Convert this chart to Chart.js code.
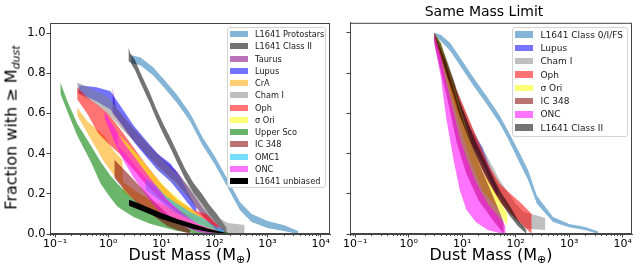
<!DOCTYPE html>
<html>
<head>
  <meta charset="UTF-8" />
  <title>Dust Mass Distributions</title>
  <script src="https://cdn.jsdelivr.net/npm/chart.js"></script>
  <style>
    body {
      margin: 0;
      background: #fff;
      font-family: "DejaVu Sans", sans-serif;
    }

    #wrap {
      position: relative;
      width: 640px;
      height: 275px;
      overflow: hidden;
    }

    canvas {
      position: absolute;
      top: 0;
    }

    #left { left: 0; }
    #right { left: 336px; }

    .legend {
      position: absolute;
      box-sizing: border-box;
      background: rgba(255, 255, 255, 0.8);
      border: 1px solid #d3d3d3;
      border-radius: 3px;
    }

    .legend .row {
      display: flex;
      align-items: center;
      white-space: nowrap;
      color: #1a1a1a;
    }

    .legend .sw {
      display: inline-block;
      flex: none;
    }

    .xtitle {
      position: absolute;
      top: 246px;
      font-size: 16px;
      line-height: 18px;
      text-align: center;
      color: #000;
    }

    .xtitle sub {
      font-size: 11px;
      vertical-align: -3px;
    }

    #ytitle {
      position: absolute;
      left: -96px;
      top: 116px;
      width: 220px;
      font-size: 16px;
      line-height: 18px;
      text-align: center;
      transform: rotate(-90deg);
      color: #000;
    }

    #ytitle sub {
      font-size: 11px;
      font-style: italic;
      vertical-align: -3px;
    }
  </style>
</head>
<body>
<div id="wrap">
  <canvas id="left" width="336" height="275"></canvas>
  <canvas id="right" width="304" height="275"></canvas>
  <div id="ytitle">Fraction with ≥ M<sub>dust</sub></div>
  <div class="xtitle" style="left:50px;width:280px">Dust Mass (M<sub>⊕</sub>)</div>
  <div class="xtitle" style="left:350px;width:282px">Dust Mass (M<sub>⊕</sub>)</div>
  <div class="legend" id="legend-left"></div>
  <div class="legend" id="legend-right"></div>
</div>

<script>
  // ---- left panel: all regions ----
  const protoMass = [2.7, 4, 7, 12, 20, 35, 60, 100, 170, 300, 500, 1000, 2000, 3800];
  const protoHigh = [0.89, 0.88, 0.83, 0.76, 0.69, 0.60, 0.48, 0.39, 0.28, 0.16, 0.10, 0.065, 0.045, 0.015];
  const protoLow  = [0.85, 0.84, 0.79, 0.72, 0.65, 0.56, 0.44, 0.35, 0.24, 0.12, 0.06, 0.03, 0.015, 0.0];

  const classIIMass = [2.4, 2.6, 3.2, 4, 6, 8, 11, 15, 20, 28, 40, 58, 80, 111, 170];
  const classIIHigh = [0.93, 0.90, 0.865, 0.805, 0.705, 0.625, 0.545, 0.475, 0.405, 0.325, 0.255, 0.20, 0.145, 0.10, 0.03];
  const classIILow  = [0.86, 0.855, 0.815, 0.755, 0.655, 0.575, 0.495, 0.425, 0.355, 0.275, 0.205, 0.15, 0.095, 0.05, 0.0];

  const taurusMass = [1.2, 1.4, 2.3, 5.4, 10, 20, 35, 60, 100, 150];
  const taurusHigh = [0.73, 0.63, 0.56, 0.45, 0.38, 0.31, 0.22, 0.13, 0.06, 0.02];
  const taurusLow  = [0.60, 0.58, 0.50, 0.39, 0.32, 0.25, 0.17, 0.09, 0.03, 0.0];

  const lupusMass = [0.28, 0.6, 1.1, 2, 3, 5, 8.4, 15, 23, 30, 40, 46];
  const lupusHigh = [0.74, 0.73, 0.71, 0.61, 0.54, 0.47, 0.40, 0.35, 0.28, 0.22, 0.16, 0.13];
  const lupusLow  = [0.70, 0.66, 0.62, 0.53, 0.46, 0.39, 0.32, 0.26, 0.20, 0.16, 0.12, 0.11];

  const craMass = [0.26, 0.41, 0.83, 1.3, 1.85, 1.9, 3, 6, 15, 40, 100];
  const craHigh = [0.63, 0.56, 0.49, 0.41, 0.37, 0.26, 0.22, 0.17, 0.13, 0.09, 0.03];
  const craLow  = [0.59, 0.50, 0.36, 0.29, 0.24, 0.21, 0.17, 0.12, 0.08, 0.05, 0.0];

  const chamMass = [0.26, 0.5, 1, 2, 4, 8, 15, 30, 60, 120, 180, 370];
  const chamHigh = [0.755, 0.72, 0.68, 0.58, 0.49, 0.40, 0.33, 0.25, 0.15, 0.08, 0.055, 0.045];
  const chamLow  = [0.70, 0.66, 0.60, 0.51, 0.43, 0.34, 0.27, 0.19, 0.10, 0.04, 0.005, 0.0];

  const ophMass = [0.26, 0.4, 0.65, 1, 1.6, 3, 5, 10, 20, 40, 70, 120];
  const ophHigh = [0.73, 0.68, 0.64, 0.60, 0.53, 0.43, 0.35, 0.25, 0.17, 0.12, 0.10, 0.04];
  const ophLow  = [0.67, 0.60, 0.50, 0.45, 0.40, 0.32, 0.25, 0.17, 0.11, 0.07, 0.04, 0.0];

  const sigmaMass = [1.5, 2.5, 4, 7, 12, 20, 35, 60, 100];
  const sigmaHigh = [0.50, 0.44, 0.38, 0.30, 0.23, 0.18, 0.13, 0.08, 0.03];
  const sigmaLow  = [0.44, 0.38, 0.31, 0.24, 0.17, 0.13, 0.08, 0.04, 0.0];

  const uscoMass = [0.125, 0.17, 0.26, 0.47, 0.72, 1.1, 1.5, 3, 6.3, 20, 55, 180];
  const uscoHigh = [0.755, 0.66, 0.55, 0.44, 0.36, 0.29, 0.25, 0.17, 0.12, 0.05, 0.025, 0.01];
  const uscoLow  = [0.70, 0.61, 0.49, 0.36, 0.25, 0.18, 0.135, 0.085, 0.05, 0.015, 0.0, 0.0];

  const ic348Mass = [1.3, 2, 3, 5, 8, 13, 20, 35];
  const ic348High = [0.37, 0.32, 0.27, 0.21, 0.15, 0.10, 0.06, 0.02];
  const ic348Low  = [0.28, 0.22, 0.17, 0.12, 0.08, 0.04, 0.02, 0.0];

  const omc1Mass = [5, 8, 12, 20, 35, 60, 100, 150];
  const omc1High = [0.28, 0.24, 0.19, 0.15, 0.11, 0.08, 0.04, 0.02];
  const omc1Low  = [0.22, 0.18, 0.14, 0.10, 0.07, 0.04, 0.02, 0.0];

  const oncMass = [0.85, 1.3, 2, 3, 5, 8, 13, 25, 50, 100];
  const oncHigh = [0.61, 0.53, 0.45, 0.39, 0.31, 0.24, 0.17, 0.10, 0.05, 0.02];
  const oncLow  = [0.58, 0.46, 0.36, 0.28, 0.20, 0.13, 0.08, 0.04, 0.01, 0.0];

  const unbiasedMass = [2.46, 3.5, 6, 10, 20, 40, 80, 170];
  const unbiasedHigh = [0.17, 0.155, 0.13, 0.105, 0.075, 0.05, 0.025, 0.005];
  const unbiasedLow  = [0.14, 0.125, 0.10, 0.075, 0.05, 0.025, 0.01, 0.0];

  // ---- right panel: same mass limit ----
  const sameProtoMass = [3, 4, 6, 9, 16, 28, 50, 70, 120, 170, 250, 500, 1000, 2000, 3500];
  const sameProtoHigh = [1.0, 0.99, 0.95, 0.88, 0.78, 0.69, 0.59, 0.52, 0.40, 0.32, 0.19, 0.085, 0.05, 0.035, 0.012];
  const sameProtoLow  = [0.99, 0.96, 0.91, 0.84, 0.74, 0.65, 0.55, 0.48, 0.35, 0.27, 0.15, 0.06, 0.033, 0.02, 0.0];

  const sameLupusMass = [3, 5, 8, 14, 24, 40, 47];
  const sameLupusHigh = [1.0, 0.86, 0.69, 0.53, 0.43, 0.27, 0.21];
  const sameLupusLow  = [0.97, 0.80, 0.62, 0.46, 0.35, 0.22, 0.18];

  const sameChamMass = [3, 5, 8, 14, 25, 50, 100, 140, 200, 360];
  const sameChamHigh = [1.0, 0.88, 0.72, 0.55, 0.42, 0.27, 0.15, 0.11, 0.10, 0.08];
  const sameChamLow  = [0.97, 0.82, 0.64, 0.47, 0.34, 0.19, 0.07, 0.03, 0.025, 0.02];

  const sameOphMass = [3, 5, 8, 13, 20, 30, 50, 80, 130, 200];
  const sameOphHigh = [1.0, 0.86, 0.71, 0.58, 0.46, 0.35, 0.25, 0.20, 0.15, 0.10];
  const sameOphLow  = [0.97, 0.80, 0.62, 0.48, 0.36, 0.26, 0.16, 0.10, 0.05, 0.0];

  const sameSigmaMass = [3, 4, 6, 10, 15, 25, 45, 70];
  const sameSigmaHigh = [1.0, 0.95, 0.80, 0.60, 0.45, 0.30, 0.19, 0.10];
  const sameSigmaLow  = [0.98, 0.88, 0.70, 0.50, 0.35, 0.21, 0.13, 0.04];

  const sameIc348Mass = [3, 5, 8, 12, 20, 35, 60];
  const sameIc348High = [1.0, 0.85, 0.66, 0.51, 0.36, 0.21, 0.06];
  const sameIc348Low  = [0.95, 0.70, 0.45, 0.30, 0.17, 0.08, 0.0];

  const sameOncMass = [3, 4, 5, 7, 9, 12, 18, 30, 50, 65];
  const sameOncHigh = [1.0, 0.88, 0.76, 0.60, 0.48, 0.38, 0.26, 0.15, 0.08, 0.04];
  const sameOncLow  = [0.95, 0.78, 0.58, 0.36, 0.22, 0.12, 0.06, 0.02, 0.005, 0.0];

  const sameClassIIMass = [3, 4, 5, 7, 9, 13, 18, 25, 38, 55, 78, 110, 160];
  const sameClassIIHigh = [1.0, 0.95, 0.87, 0.76, 0.66, 0.55, 0.46, 0.38, 0.28, 0.20, 0.14, 0.07, 0.02];
  const sameClassIILow  = [1.0, 0.89, 0.80, 0.69, 0.59, 0.48, 0.39, 0.31, 0.22, 0.15, 0.09, 0.04, 0.0];

  const decades = [0.1, 1, 10, 100, 1000, 10000];
  const yTicks = [0, 0.2, 0.4, 0.6, 0.8, 1.0];

  const colors = {
    blue: 'rgba(31,119,180,0.55)',
    black: 'rgba(0,0,0,0.55)',
    purple: 'rgba(128,0,128,0.55)',
    lupus: 'rgba(0,0,255,0.55)',
    orange: 'rgba(255,165,0,0.55)',
    gray: 'rgba(128,128,128,0.5)',
    red: 'rgba(255,0,0,0.55)',
    yellow: 'rgba(255,255,0,0.55)',
    green: 'rgba(0,128,0,0.58)',
    maroon: 'rgba(128,0,0,0.55)',
    cyan: 'rgba(0,191,255,0.55)',
    magenta: 'rgba(255,0,255,0.55)',
    solid: 'rgba(0,0,0,1)'
  };

  const leftBands = [
    ['L1641 Protostars', protoMass, protoLow, protoHigh, colors.blue],
    ['L1641 Class II', classIIMass, classIILow, classIIHigh, colors.black],
    ['Taurus', taurusMass, taurusLow, taurusHigh, colors.purple],
    ['Lupus', lupusMass, lupusLow, lupusHigh, colors.lupus],
    ['CrA', craMass, craLow, craHigh, colors.orange],
    ['Cham I', chamMass, chamLow, chamHigh, colors.gray],
    ['Oph', ophMass, ophLow, ophHigh, colors.red],
    ['σ Ori', sigmaMass, sigmaLow, sigmaHigh, colors.yellow],
    ['Upper Sco', uscoMass, uscoLow, uscoHigh, colors.green],
    ['IC 348', ic348Mass, ic348Low, ic348High, colors.maroon],
    ['OMC1', omc1Mass, omc1Low, omc1High, colors.cyan],
    ['ONC', oncMass, oncLow, oncHigh, colors.magenta],
    ['L1641 unbiased', unbiasedMass, unbiasedLow, unbiasedHigh, colors.solid]
  ];

  const rightBands = [
    ['L1641 Class 0/I/FS', sameProtoMass, sameProtoLow, sameProtoHigh, colors.blue],
    ['Lupus', sameLupusMass, sameLupusLow, sameLupusHigh, colors.lupus],
    ['Cham I', sameChamMass, sameChamLow, sameChamHigh, colors.gray],
    ['Oph', sameOphMass, sameOphLow, sameOphHigh, colors.red],
    ['σ Ori', sameSigmaMass, sameSigmaLow, sameSigmaHigh, colors.yellow],
    ['IC 348', sameIc348Mass, sameIc348Low, sameIc348High, colors.maroon],
    ['ONC', sameOncMass, sameOncLow, sameOncHigh, colors.magenta],
    ['L1641 Class II', sameClassIIMass, sameClassIILow, sameClassIIHigh, colors.black]
  ];

  const FONT = '"DejaVu Sans", sans-serif';
  const AXIS = '#444';

  const sup = { '-': '⁻', '0': '⁰', '1': '¹', '2': '²', '3': '³', '4': '⁴' };
  function decadeLabel(v) {
    const e = String(Math.round(Math.log10(v)));
    return '10' + e.split('').map(c => sup[c]).join('');
  }

  // each band = lower line + upper line filled down to it
  function bandDatasets(bands) {
    const out = [];
    bands.forEach(([label, mass, low, high, color], k) => {
      const common = {
        pointRadius: 0,
        borderWidth: 0,
        borderColor: 'rgba(0,0,0,0)',
        tension: 0,
        order: -k
      };
      out.push(Object.assign({
        label: label + ' low',
        data: mass.map((m, i) => ({ x: m, y: low[i] })),
        fill: false
      }, common));
      out.push(Object.assign({
        label: label,
        data: mass.map((m, i) => ({ x: m, y: high[i] })),
        fill: '-1',
        backgroundColor: color
      }, common));
    });
    return out;
  }

  // full box plus the small log ticks matplotlib draws
  const framePlugin = {
    id: 'frame',
    afterDraw(chart) {
      const { ctx, chartArea: a } = chart;
      const xs = chart.scales.x;
      ctx.save();
      ctx.strokeStyle = AXIS;
      ctx.lineWidth = 1;
      ctx.strokeRect(a.left + 0.5, a.top + 0.5, a.right - a.left - 1, a.bottom - a.top - 1);
      ctx.beginPath();
      for (let d = -2; d <= 4; d++) {
        for (let k = 2; k <= 9; k++) {
          const v = k * Math.pow(10, d);
          if (v < xs.min || v > xs.max) continue;
          const px = Math.round(xs.getPixelForValue(v)) + 0.5;
          ctx.moveTo(px, a.bottom);
          ctx.lineTo(px, a.bottom + 2);
        }
      }
      ctx.stroke();
      ctx.restore();
    }
  };

  function makeChart(id, bands, opts) {
    return new Chart(document.getElementById(id), {
      type: 'line',
      data: { datasets: bandDatasets(bands) },
      plugins: [framePlugin],
      options: {
        responsive: false,
        animation: false,
        devicePixelRatio: 1,
        layout: { padding: opts.padding },
        plugins: {
          legend: { display: false },
          tooltip: { enabled: false },
          title: opts.title ? {
            display: true,
            text: opts.title,
            color: '#000',
            font: { family: FONT, size: 14, weight: 'normal', lineHeight: 1.2 },
            padding: { top: 4, bottom: 2 }
          } : { display: false }
        },
        scales: {
          x: {
            type: 'logarithmic',
            min: 0.08,
            max: 15000,
            afterBuildTicks: s => { s.ticks = decades.map(v => ({ value: v })); },
            afterFit: s => { s.height = 41; },
            ticks: {
              autoSkip: false,
              maxRotation: 0,
              padding: 0,
              color: '#000',
              font: { family: FONT, size: 11 },
              callback: v => decadeLabel(v)
            },
            grid: { drawOnChartArea: false, tickLength: 3.5, color: AXIS },
            border: { color: AXIS }
          },
          y: {
            min: 0,
            max: 1.05,
            afterBuildTicks: s => { s.ticks = yTicks.map(v => ({ value: v })); },
            afterFit: s => { s.width = opts.yWidth; },
            ticks: {
              padding: 1,
              color: '#000',
              font: { family: FONT, size: 11.5 },
              callback: v => opts.yLabels ? v.toFixed(1) : ''
            },
            grid: { drawOnChartArea: false, tickLength: 3.5, color: AXIS },
            border: { color: AXIS }
          }
        }
      }
    });
  }

  makeChart('left', leftBands, {
    padding: { top: 23, right: 6, left: 0, bottom: 0 },
    yWidth: 50,
    yLabels: true
  });

  makeChart('right', rightBands, {
    padding: { top: 0, right: 8, left: 0, bottom: 0 },
    yWidth: 14,
    yLabels: false,
    title: 'Same Mass Limit'
  });

  function buildLegend(id, bands, box) {
    const el = document.getElementById(id);
    Object.assign(el.style, {
      left: box.left + 'px',
      top: box.top + 'px',
      width: box.width + 'px',
      paddingBottom: box.padBottom + 'px'
    });
    bands.forEach(b => {
      const row = document.createElement('div');
      row.className = 'row';
      row.style.height = box.rowH + 'px';
      row.style.fontSize = box.font + 'px';
      const sw = document.createElement('span');
      sw.className = 'sw';
      Object.assign(sw.style, {
        width: '18px',
        height: box.swH + 'px',
        marginLeft: '2px',
        marginRight: box.gap + 'px',
        background: b[4]
      });
      const txt = document.createElement('span');
      txt.textContent = b[0];
      row.appendChild(sw);
      row.appendChild(txt);
      el.appendChild(row);
    });
  }

  buildLegend('legend-left', leftBands, { left: 227, top: 27, width: 99, rowH: 12.25, font: 8.2, swH: 6, gap: 7, padBottom: 0 });
  buildLegend('legend-right', rightBands, { left: 512, top: 27, width: 116, rowH: 13.3, font: 9, swH: 6.5, gap: 7.5, padBottom: 2 });
</script>
</body>
</html>
